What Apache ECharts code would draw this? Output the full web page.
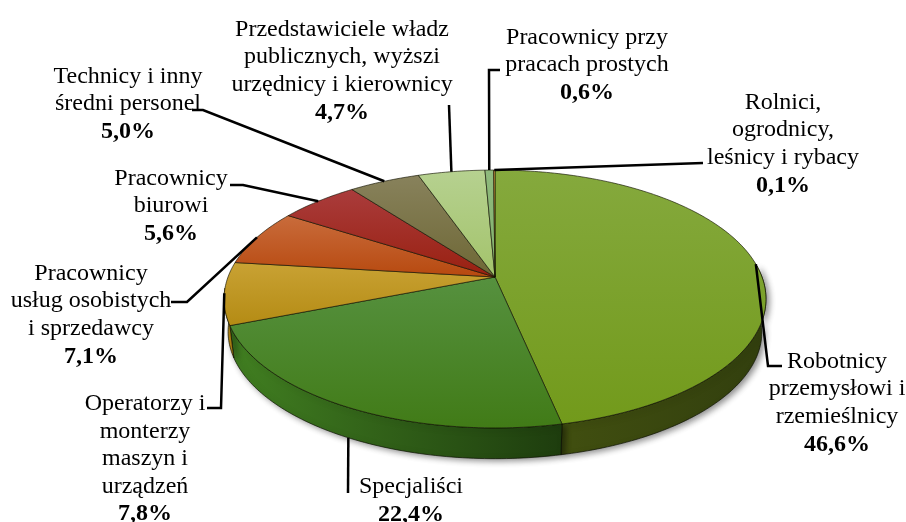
<!DOCTYPE html>
<html>
<head>
<meta charset="utf-8">
<title>Struktura zawodowa</title>
<script src="https://cdn.jsdelivr.net/npm/echarts@6/dist/echarts.min.js"></script>
<style>
html, body { margin: 0; padding: 0; background: #fff; }
#chart { width: 906px; height: 522px; }
</style>
</head>
<body>
<div id="chart"></div>
<script>
// kolejnosc zgodnie z ruchem wskazowek zegara, od gory
const categories = [
  'Robotnicy\nprzemysłowi i\nrzemieślnicy',
  'Specjaliści',
  'Operatorzy i\nmonterzy\nmaszyn i\nurządzeń',
  'Pracownicy\nusług osobistych\ni sprzedawcy',
  'Pracownicy\nbiurowi',
  'Technicy i inny\nśredni personel',
  'Przedstawiciele władz\npublicznych, wyższi\nurzędnicy i kierownicy',
  'Pracownicy przy\npracach prostych',
  'Rolnici,\nogrodnicy,\nleśnicy i rybacy'
];
const shares = [46.6, 22.4, 7.8, 7.1, 5.6, 5.0, 4.7, 0.6, 0.1];

const topColors = [
  ['#85a93d', '#729a1b'], ['#56913f', '#417b17'], ['#c9a234', '#b48b14'],
  ['#c96c3c', '#b7490f'], ['#aa3c3c', '#992010'], ['#88825c', '#6e6735'],
  ['#b6d190', '#a3c36b'], ['#8fba7d', '#82b06c'], ['#e6a84a', '#d99030']
];
const wallColors = [
  ['#414f10', '#323f0e'], ['#417f21', '#1e3d0e'], ['#bd8e18', '#a87c10'],
  ['#a8430e', '#8c380b'], ['#8c1e0e', '#731808'], ['#665f30', '#565028'],
  ['#93ad60', '#80994f'], ['#73995f', '#668a52'], ['#c9852c', '#b87820']
];

// srodek etykiety i dalszy przebieg linii odniesienia
const labelCenters = [
  [837, 402], [411, 500], [145, 458], [91, 314], [171, 205],
  [128, 103], [342, 70], [587, 64], [783, 143]
];
const leaderPaths = [
  [[768, 366], [782, 366]],
  [[348, 493]],
  [[221, 408], [207, 408]],
  [[187, 302], [171, 302]],
  [[243, 185], [230, 185]],
  [[203, 110], [192, 110]],
  [[449, 105]],
  [[489, 70], [500, 70]],
  [[703, 163]]
];

// rzut perspektywiczny kola (gora tarczy)
const CX = 495, CY = 277, RX = 267, RY = 125.2, K = 0.1705;
const DEPTH = 33, SHRINK = 0.985;
// zakres katow, w ktorym widac sciane boczna
const WALL_FROM = 85, WALL_TO = 265;

function rim(deg, lower) {
  const a = deg * Math.PI / 180;
  const w = 1 + K * Math.cos(a);
  let dx = RX * Math.sin(a) / w;
  let dy = -RY * Math.cos(a) / w;
  if (!lower) return [CX + dx, CY + dy];
  return [CX + dx * SHRINK, CY + dy * SHRINK + DEPTH];
}

const total = shares.reduce((s, v) => s + v, 0);
const startAngles = [];
let sum = 0;
shares.forEach((v) => { startAngles.push(sum / total * 360); sum += v; });

function arc(from, to, lower) {
  const pts = [];
  const n = Math.max(2, Math.ceil(to - from));
  for (let i = 0; i <= n; i++) pts.push(rim(from + (to - from) * i / n, lower));
  return pts;
}

function grad(x2, y2, c) {
  return { type: 'linear', x: 0, y: 0, x2: x2, y2: y2,
    colorStops: [{ offset: 0, color: c[0] }, { offset: 1, color: c[1] }] };
}

function span(i, v) {
  const from = startAngles[i];
  return [from, from + v / total * 360];
}

function renderWall(params, api) {
  const i = params.dataIndex;
  const s = span(i, api.value(0));
  const from = Math.max(s[0], WALL_FROM);
  const to = Math.min(s[1], WALL_TO);
  if (to <= from) return null;
  const pts = arc(from, to, false).concat(arc(from, to, true).reverse());
  return {
    type: 'polygon',
    shape: { points: pts },
    style: {
      fill: grad(1, 0, wallColors[i]),
      stroke: 'rgba(10,15,0,0.85)',
      lineWidth: 0.8,
      shadowColor: 'rgba(0,0,0,0.45)',
      shadowBlur: 6,
      shadowOffsetX: 3,
      shadowOffsetY: 2
    }
  };
}

function renderTop(params, api) {
  const i = params.dataIndex;
  const s = span(i, api.value(0));
  return {
    type: 'polygon',
    shape: { points: [[CX, CY]].concat(arc(s[0], s[1], false)) },
    style: {
      fill: grad(0, 1, topColors[i]),
      stroke: 'rgba(15,15,0,0.8)',
      lineWidth: 0.8
    }
  };
}

function renderLabel(params, api) {
  const i = params.dataIndex;
  const v = api.value(0);
  const s = span(i, v);
  const mid = (s[0] + s[1]) / 2;
  // Specjalisci: linia wychodzi z dolnej krawedzi sciany
  const start = rim(mid, i === 1);
  const pct = v.toFixed(1).replace('.', ',') + '%';
  const c = labelCenters[i];
  return {
    type: 'group',
    children: [
      {
        type: 'polyline',
        shape: { points: [start].concat(leaderPaths[i]) },
        style: { fill: 'none', stroke: '#000', lineWidth: 2.5 }
      },
      {
        type: 'text',
        x: c[0],
        y: c[1] + 1,
        style: {
          text: categories[i] + '\n{b|' + pct + '}',
          fill: '#000',
          font: '24px "Liberation Serif"',
          lineHeight: 27.6,
          align: 'center',
          verticalAlign: 'middle',
          rich: {
            b: { font: 'bold 24px "Liberation Serif"', lineHeight: 27.6, fill: '#000' }
          }
        }
      }
    ]
  };
}

const myChart = echarts.init(document.getElementById('chart'), null, { renderer: 'canvas' });
myChart.setOption({
  animation: false,
  backgroundColor: '#fff',
  series: [
    { type: 'custom', coordinateSystem: 'none', silent: true, z: 1, data: shares, renderItem: renderWall },
    { type: 'custom', coordinateSystem: 'none', silent: true, z: 2, data: shares, renderItem: renderTop },
    { type: 'custom', coordinateSystem: 'none', silent: true, z: 3, data: shares, renderItem: renderLabel }
  ]
});
</script>
</body>
</html>
